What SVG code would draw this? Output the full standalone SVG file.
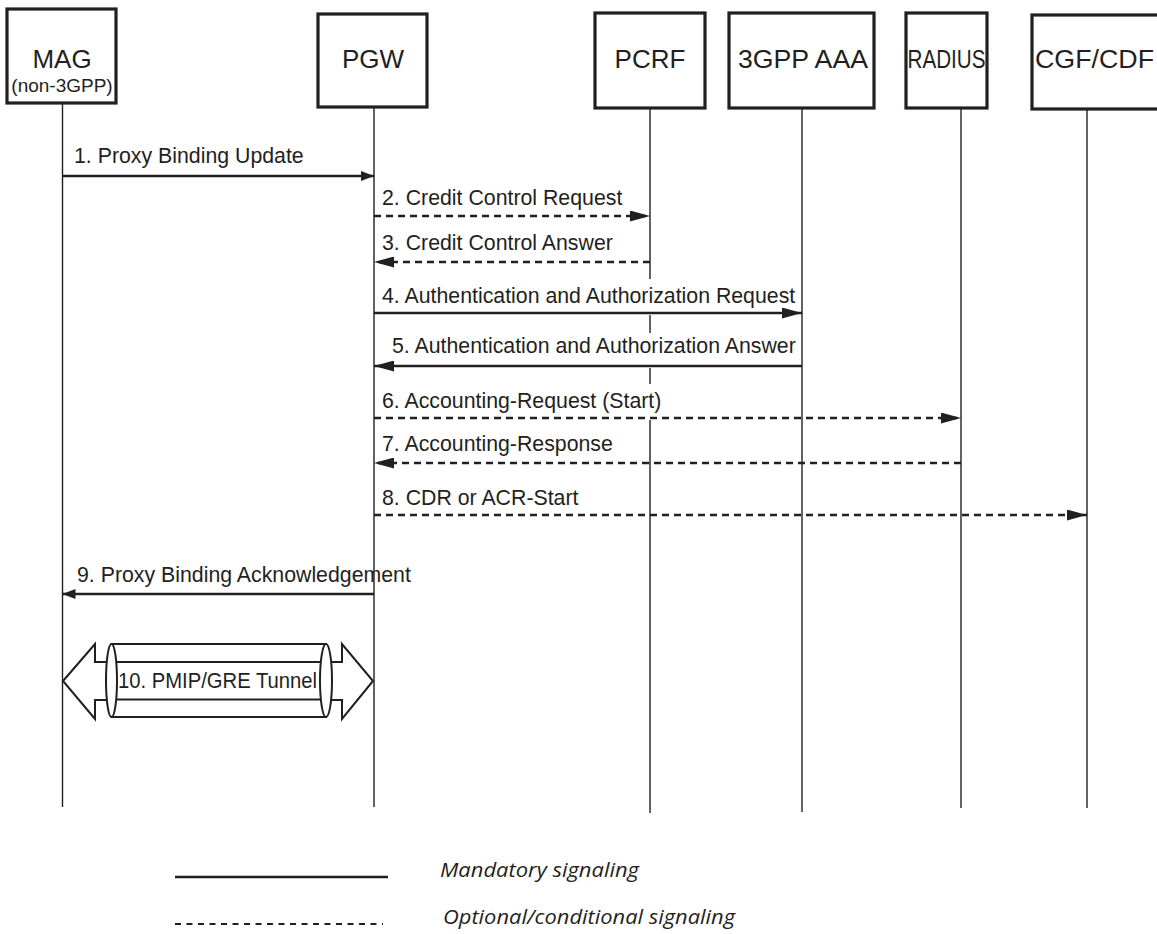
<svg xmlns="http://www.w3.org/2000/svg" width="1157" height="934" viewBox="0 0 1157 934">
  <style>
    .box { fill: #ffffff; stroke: #231f20; stroke-width: 3.2; }
    .name { font-family: "Liberation Sans", Arial, sans-serif; font-size: 26px; fill: #231f20; text-anchor: middle; }
    .sub { font-family: "Liberation Sans", Arial, sans-serif; font-size: 19px; fill: #231f20; text-anchor: middle; }
    .life { stroke: #231f20; stroke-width: 1.4; fill: none; }
    .msg { stroke: #231f20; stroke-width: 2.6; fill: none; }
    .opt { stroke-dasharray: 7 5; }
    .lbl { font-family: "Liberation Sans", Arial, sans-serif; font-size: 21.3px; fill: #231f20; }
    .tun { fill: #ffffff; stroke: #231f20; stroke-width: 2; }
    .tline { stroke: #231f20; stroke-width: 2; fill: none; }
    .legend { font-family: "Open Sans", "Noto Sans", sans-serif; font-style: italic; font-size: 20px; fill: #231f20; }
  </style>
  <defs>
    <marker id="head" viewBox="0 0 20 11" refX="20" refY="5.5" markerWidth="20" markerHeight="11" markerUnits="userSpaceOnUse" orient="auto">
      <path d="M0,0 L20,5.5 L0,11 Z" fill="#231f20"/>
    </marker>
    <marker id="headSm" viewBox="0 0 13 10" refX="13" refY="5" markerWidth="13" markerHeight="10" markerUnits="userSpaceOnUse" orient="auto">
      <path d="M0,0 L13,5 L0,10 Z" fill="#231f20"/>
    </marker>
  </defs>
  <rect width="1157" height="934" fill="#ffffff"/>

  <!-- lifelines -->
  <g id="lifelines">
    <line class="life" x1="62.5" y1="103" x2="62.5" y2="807"/>
    <line class="life" x1="374" y1="107" x2="374" y2="807"/>
    <path class="life" d="M650,108 V279 M650,315 V333 M650,368 V384 M650,420 V813"/>
    <line class="life" x1="802" y1="108" x2="802" y2="812"/>
    <line class="life" x1="961" y1="108" x2="961" y2="808"/>
    <line class="life" x1="1087" y1="109" x2="1087" y2="808"/>
  </g>

  <!-- participants -->
  <g id="mag">
    <rect class="box" x="7" y="9" width="109" height="94"/>
    <text class="name" x="62" y="68">MAG</text>
    <text class="sub" x="62" y="92">(non-3GPP)</text>
  </g>
  <g id="pgw">
    <rect class="box" x="318" y="14" width="109" height="93"/>
    <text class="name" x="373" y="68">PGW</text>
  </g>
  <g id="pcrf">
    <rect class="box" x="595" y="13" width="110" height="95"/>
    <text class="name" x="650" y="68">PCRF</text>
  </g>
  <g id="aaa">
    <rect class="box" x="729" y="13" width="145" height="95"/>
    <text class="name" x="803" y="68" textLength="130" lengthAdjust="spacingAndGlyphs">3GPP AAA</text>
  </g>
  <g id="radius">
    <rect class="box" x="906" y="13" width="81" height="95"/>
    <text class="name" x="946.5" y="68" textLength="78" lengthAdjust="spacingAndGlyphs">RADIUS</text>
  </g>
  <g id="cgf">
    <rect class="box" x="1032" y="15" width="135" height="94"/>
    <text class="name" x="1094.5" y="68" textLength="119" lengthAdjust="spacingAndGlyphs">CGF/CDF</text>
  </g>

  <!-- messages -->
  <g id="connectors">
    <line class="msg" x1="62.5" y1="176" x2="374" y2="176" marker-end="url(#headSm)"/>
    <line class="msg opt" x1="374" y1="216" x2="650" y2="216" marker-end="url(#head)"/>
    <line class="msg opt" x1="650" y1="262" x2="374" y2="262" marker-end="url(#head)"/>
    <line class="msg" x1="374" y1="313" x2="802" y2="313" marker-end="url(#head)"/>
    <line class="msg" x1="802" y1="366" x2="374" y2="366" marker-end="url(#head)"/>
    <line class="msg opt" x1="374" y1="418" x2="961" y2="418" marker-end="url(#head)"/>
    <line class="msg opt" x1="961" y1="463" x2="374" y2="463" marker-end="url(#head)"/>
    <line class="msg opt" x1="374" y1="515" x2="1087" y2="515" marker-end="url(#head)"/>
    <line class="msg" x1="374" y1="594" x2="62.5" y2="594" marker-end="url(#headSm)"/>
  </g>

  <g id="labels">
    <text class="lbl" x="74" y="163">1. Proxy Binding Update</text>
    <text class="lbl" x="382" y="205">2. Credit Control Request</text>
    <text class="lbl" x="382" y="250">3. Credit Control Answer</text>
    <text class="lbl" x="382" y="303">4. Authentication and Authorization Request</text>
    <text class="lbl" x="392" y="353">5. Authentication and Authorization Answer</text>
    <text class="lbl" x="382" y="408">6. Accounting-Request (Start)</text>
    <text class="lbl" x="382" y="451">7. Accounting-Response</text>
    <text class="lbl" x="382" y="505">8. CDR or ACR-Start</text>
    <text class="lbl" x="77" y="582">9. Proxy Binding Acknowledgement</text>
  </g>

  <!-- 10: tunnel drawn as a cylinder on a double-headed arrow -->
  <g id="tunnel">
    <path class="tun" d="M63,681 L95,644 L95,662 L342,662 L342,644 L373,681 L342,719 L342,700 L95,700 L95,719 Z"/>
    <path class="tun" d="M111.5,644 L326,644 L326,717 L111.5,717 Z" stroke="none"/>
    <line class="tline" x1="111.5" y1="644" x2="326" y2="644"/>
    <line class="tline" x1="111.5" y1="717" x2="326" y2="717"/>
    <ellipse class="tun" cx="111.5" cy="680.5" rx="5.5" ry="36.5"/>
    <ellipse class="tun" cx="326" cy="680.5" rx="6" ry="36.5"/>
    <line class="tline" x1="117" y1="662" x2="320" y2="662"/>
    <line class="tline" x1="117" y1="699.5" x2="320" y2="699.5"/>
    <text class="lbl" x="118" y="688" font-size="20.2" textLength="199" lengthAdjust="spacingAndGlyphs">10. PMIP/GRE Tunnel</text>
  </g>

  <!-- legend -->
  <g id="legend">
    <line stroke="#231f20" stroke-width="2.7" x1="175" y1="877" x2="388" y2="877"/>
    <line stroke="#231f20" stroke-width="2" stroke-dasharray="6 5.5" x1="175" y1="924" x2="383" y2="924"/>
    <text class="legend" x="440" y="877" textLength="199" lengthAdjust="spacingAndGlyphs">Mandatory signaling</text>
    <text class="legend" x="443" y="924" textLength="292" lengthAdjust="spacingAndGlyphs">Optional/conditional signaling</text>
  </g>
</svg>
